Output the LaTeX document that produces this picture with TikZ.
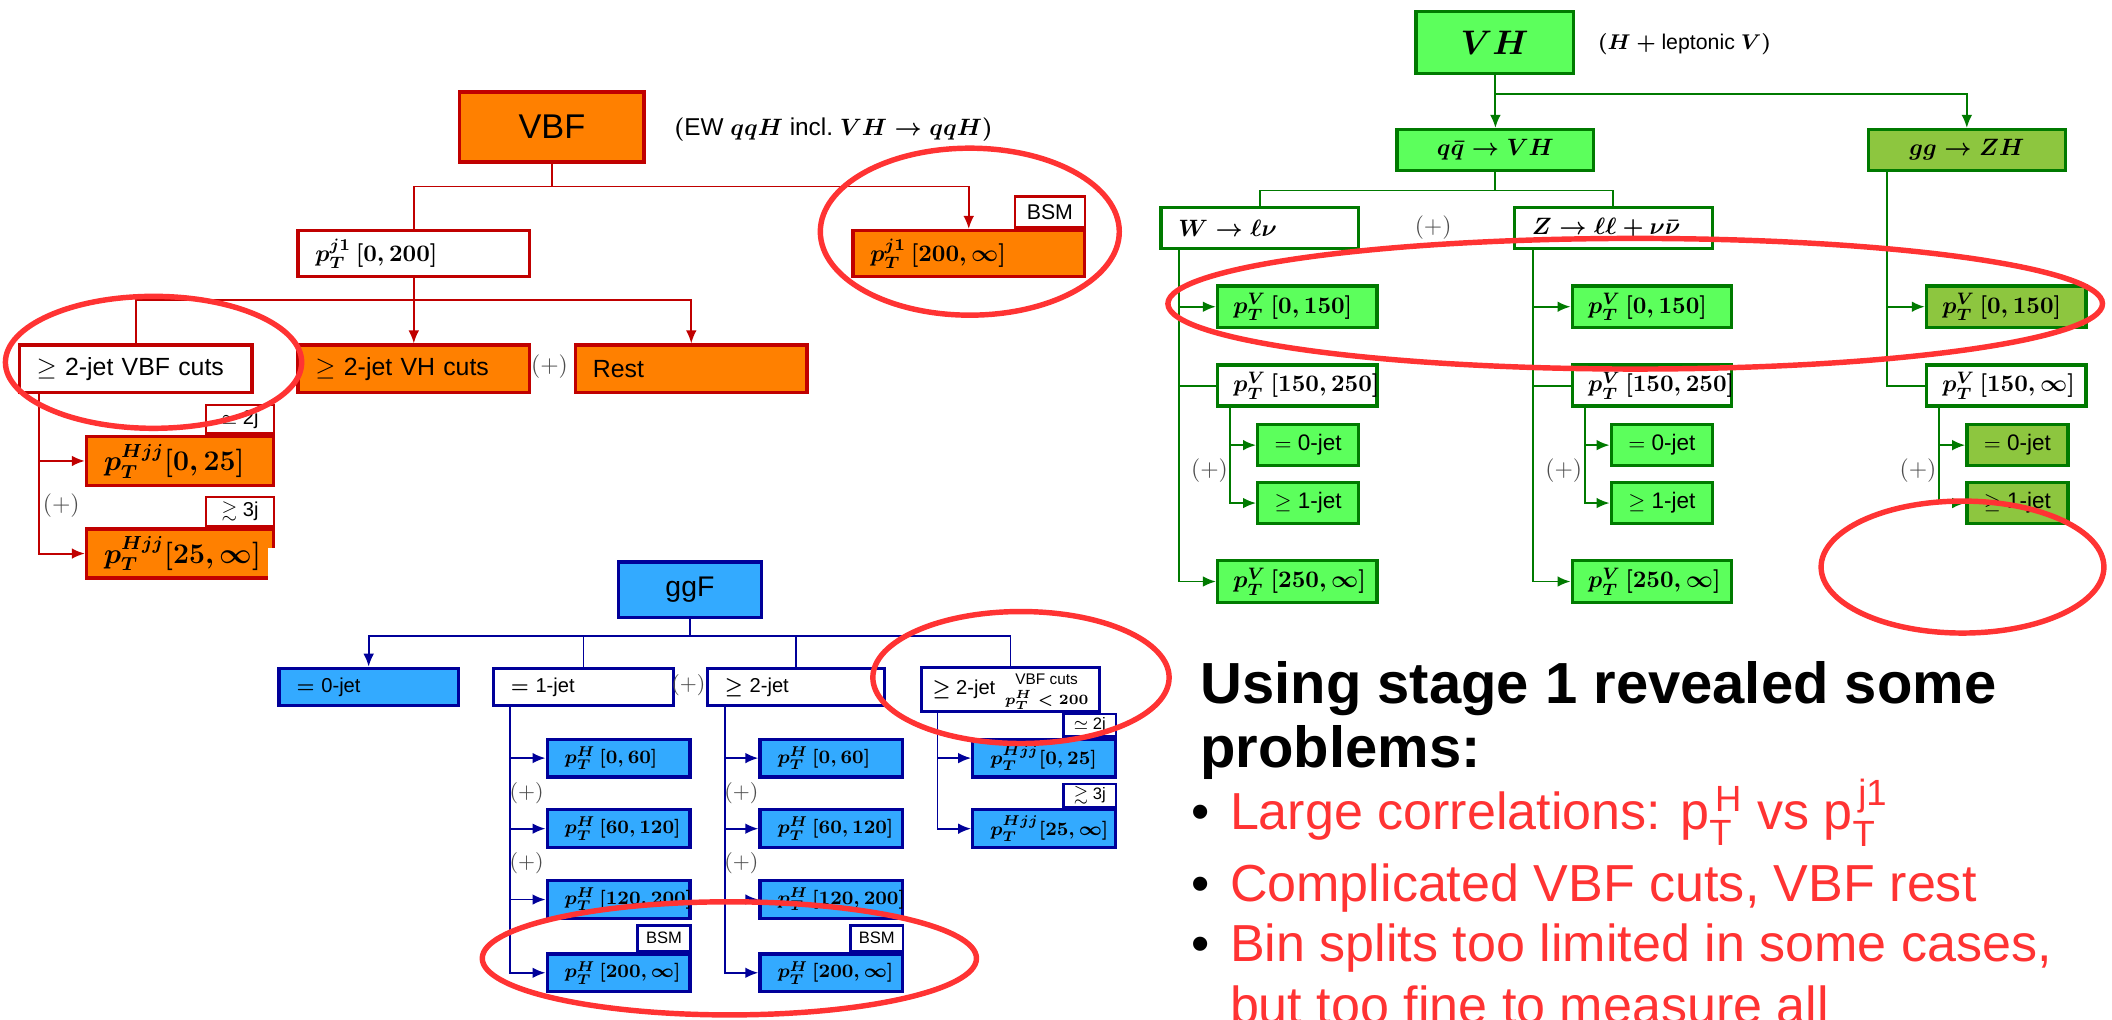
\documentclass[tikz,border=0pt]{standalone}
\usepackage{amsmath,amssymb}
\usepackage{fontspec}
\setsansfont{Liberation Sans}
\usetikzlibrary{arrows.meta}

\begin{document}
\begin{tikzpicture}[x = 0.02cm, y = -0.02cm, font = \sffamily,
  binbox/.style = {draw, line width = 1.4pt, anchor = north west, inner xsep = 0.26cm,
    inner ysep = 0pt, align = left, font = \sffamily\boldmath\fontsize{10}{12}\selectfont},
  vbfbox/.style = {binbox, draw = vbfRed, fill = vbfOrange},
  vbfwbox/.style = {binbox, draw = vbfRed, fill = white},
  vhbox/.style = {binbox, draw = vhDark, fill = vhGreen},
  vhwbox/.style = {binbox, draw = vhDark, fill = white},
  zhbox/.style = {binbox, draw = vhDark, fill = zhOlive},
  ggfbox/.style = {binbox, draw = ggfNavy, fill = ggfBlue, font = \sffamily\boldmath\fontsize{8.5}{10}\selectfont},
  ggfwbox/.style = {ggfbox, fill = white},
  tagbox/.style = {draw = #1, fill = white, line width = 1.1pt, anchor = south east,
    inner sep = 0pt, align = center},
  jetbox/.style = {minimum width = 1.5cm, minimum height = 0.61cm, align = center, inner xsep = 0pt,
    font = \sffamily\fontsize{9.5}{11}\selectfont},
  plus/.style = {text = black!70, font = \rmfamily\fontsize{10}{12}\selectfont},
  vbfline/.style = {draw = vbfRed, line width = 0.8pt},
  vhline/.style = {draw = vhDark, line width = 0.8pt},
  ggfline/.style = {draw = ggfNavy, line width = 0.8pt},
  headed/.style = {-{Latex[length = 5.5pt, width = 4.5pt]}},
  ring/.style = {draw = markRed, line width = 2.3pt}]

  \definecolor{vbfOrange}{HTML}{FF8000};
  \definecolor{vbfRed}{HTML}{C00000};
  \definecolor{vhGreen}{HTML}{5CFF5C};
  \definecolor{vhDark}{HTML}{007A00};
  \definecolor{zhOlive}{HTML}{8DC63F};
  \definecolor{ggfBlue}{HTML}{33AAFF};
  \definecolor{ggfNavy}{HTML}{000099};
  \definecolor{markRed}{HTML}{FF3333};

  \useasboundingbox (0,0) rectangle (1568,757);

  % VBF tree
  \node[vbfbox, minimum width = 2.74cm, minimum height = 1.04cm, align = center, inner xsep = 0pt,
    font = \sffamily\fontsize{14.5}{16}\selectfont] (vbf) at (340,67) {VBF};
  \node[anchor = west, font = \sffamily\boldmath\fontsize{10.3}{12}\selectfont] (vbfnote) at (494,96)
    {$($EW $qqH$ incl.\ $VH\rightarrow qqH)$};
  \node[vbfwbox, text width = 2.92cm, minimum height = 0.68cm] (pjlo) at (220,170) {$p_T^{j1}\,[0,200]$};
  \node[vbfbox, text width = 2.92cm, minimum height = 0.68cm] (pjhi) at (632,170) {$p_T^{j1}\,[200,\infty]$};
  \node[tagbox = vbfRed, minimum width = 1.04cm, minimum height = 0.46cm,
    font = \sffamily\fontsize{9}{10}\selectfont] (pjtag) at (pjhi.north east) {BSM};

  \node[vbfwbox, text width = 2.94cm, minimum height = 0.70cm,
    font = \sffamily\fontsize{10.5}{12}\selectfont] (vbfcut) at (13,255) {$\geq$ 2-jet VBF cuts};
  \node[vbfbox, text width = 2.92cm, minimum height = 0.70cm,
    font = \sffamily\fontsize{10.5}{12}\selectfont] (vhcut) at (220,255) {$\geq$ 2-jet VH cuts};
  \node[plus] (vbfplus) at (408,272) {$(+)$};
  \node[vbfbox, text width = 2.92cm, minimum height = 0.70cm,
    font = \sffamily\fontsize{10.5}{12}\selectfont] (rest) at (426,255) {Rest};

  \node[vbfbox, text width = 2.26cm, minimum height = 0.72cm,
    font = \boldmath\fontsize{11.5}{13}\selectfont] (hjjlo) at (63,323) {$p_T^{Hjj}[0,25]$};
  \node[tagbox = vbfRed, minimum width = 1.01cm, minimum height = 0.43cm,
    font = \sffamily\fontsize{8.5}{10}\selectfont] (hjjlotag) at (hjjlo.north east) {$\simeq$ 2j};
  \node[vbfbox, text width = 2.26cm, minimum height = 0.73cm,
    font = \boldmath\fontsize{11.5}{13}\selectfont] (hjjhi) at (63,391.5) {$p_T^{Hjj}[25,\infty]$};
  \node[tagbox = vbfRed, minimum width = 1.01cm, minimum height = 0.43cm,
    font = \sffamily\fontsize{8.5}{10}\selectfont] (hjjhitag) at (hjjhi.north east) {$\gtrsim$ 3j};
  \node[plus] (hjjplus) at (45.5,375) {$(+)$};
  \fill[white] (199,407) rectangle (216,434);

  \draw[vbfline] (vbf.south) -- ++(0,17) -| (pjlo.north);
  \draw[vbfline, headed] (vbf.south) -- ++(0,17) -| (pjhi.north);
  \draw[vbfline] (pjlo.south) -- ++(0,16) -| (vbfcut.north);
  \draw[vbfline, headed] (pjlo.south) -- (vhcut.north);
  \draw[vbfline, headed] (pjlo.south) -- ++(0,16) -| (rest.north);
  \draw[vbfline, headed] ([xshift = 0.32cm]vbfcut.south west) |- (hjjlo.west);
  \draw[vbfline, headed] ([xshift = 0.32cm]vbfcut.south west) |- (hjjhi.west);

  % VH tree
  \node[vhbox, minimum width = 2.34cm, minimum height = 0.92cm, align = center, inner xsep = 0pt,
    font = \boldmath\fontsize{14.5}{16}\selectfont] (vh) at (1050,7.4) {$VH$};
  \node[anchor = west, font = \sffamily\boldmath\fontsize{9}{10}\selectfont] (vhnote) at (1180,33)
    {$(H+{}$leptonic $V)$};
  \node[vhbox, minimum width = 2.92cm, minimum height = 0.61cm, align = center, inner xsep = 0pt] (qqvh)
    at (1036,95) {$q\bar{q}\rightarrow VH$};
  \node[zhbox, minimum width = 2.92cm, minimum height = 0.61cm, align = center, inner xsep = 0pt] (ggzh)
    at (1386,95) {$gg\rightarrow ZH$};
  \node[vhwbox, text width = 2.42cm, minimum height = 0.61cm] (wlv) at (860.6,153) {$W\rightarrow\ell\nu$};
  \node[plus] (vhplus) at (1064,169) {$(+)$};
  \node[vhwbox, text width = 2.42cm, minimum height = 0.61cm] (zll) at (1123,153) {$Z\rightarrow\ell\ell+\nu\bar{\nu}$};

  \node[vhbox, text width = 1.9cm, minimum height = 0.62cm, inner xsep = 0.235cm] (wlo) at (902.7,211) {$p_T^V\,[0,150]$};
  \node[vhwbox, text width = 1.9cm, minimum height = 0.61cm, inner xsep = 0.235cm] (wmid) at (902.7,269.8) {$p_T^V\,[150,250]$};
  \node[vhbox, jetbox] (wnull) at (932.5,314) {$=$ 0-jet};
  \node[plus] (wplus) at (898,349.4) {$(+)$};
  \node[vhbox, jetbox] (wone) at (932.5,357) {$\geq$ 1-jet};
  \node[vhbox, text width = 1.9cm, minimum height = 0.62cm, inner xsep = 0.235cm] (whi) at (902.7,415) {$p_T^V\,[250,\infty]$};

  \node[vhbox, text width = 1.9cm, minimum height = 0.62cm, inner xsep = 0.235cm] (zlo) at (1166,211) {$p_T^V\,[0,150]$};
  \node[vhwbox, text width = 1.9cm, minimum height = 0.61cm, inner xsep = 0.235cm] (zmid) at (1166,269.8) {$p_T^V\,[150,250]$};
  \node[vhbox, jetbox] (znull) at (1195,314) {$=$ 0-jet};
  \node[plus] (zplus) at (1161,349.4) {$(+)$};
  \node[vhbox, jetbox] (zone) at (1195,357) {$\geq$ 1-jet};
  \node[vhbox, text width = 1.9cm, minimum height = 0.62cm, inner xsep = 0.235cm] (zhi) at (1166,415) {$p_T^V\,[250,\infty]$};

  \node[zhbox, text width = 1.9cm, minimum height = 0.62cm, inner xsep = 0.235cm] (zhlo) at (1429,211) {$p_T^V\,[0,150]$};
  \node[vhwbox, text width = 1.9cm, minimum height = 0.61cm, inner xsep = 0.235cm] (zhmid) at (1429,269.8) {$p_T^V\,[150,\infty]$};
  \node[zhbox, jetbox] (zhnull) at (1459,314) {$=$ 0-jet};
  \node[plus] (zhplus) at (1424,349.4) {$(+)$};
  \node[zhbox, jetbox] (zhone) at (1459,357) {$\geq$ 1-jet};

  \draw[vhline, headed] (vh.south) -- ++(0,14) -| (qqvh.north);
  \draw[vhline, headed] (vh.south) -- ++(0,14) -| (ggzh.north);
  \draw[vhline] (qqvh.south) -- ++(0,13.5) -| (wlv.north);
  \draw[vhline] (qqvh.south) -- ++(0,13.5) -| (zll.north);

  \draw[vhline, headed] ([xshift = 0.29cm]wlv.south west) |- (wlo.west);
  \draw[vhline] ([xshift = 0.29cm]wlv.south west) |- (wmid.west);
  \draw[vhline, headed] ([xshift = 0.29cm]wlv.south west) |- (whi.west);
  \draw[vhline, headed] ([xshift = 0.21cm]wmid.south west) |- (wnull.west);
  \draw[vhline, headed] ([xshift = 0.21cm]wmid.south west) |- (wone.west);

  \draw[vhline, headed] ([xshift = 0.3cm]zll.south west) |- (zlo.west);
  \draw[vhline] ([xshift = 0.3cm]zll.south west) |- (zmid.west);
  \draw[vhline, headed] ([xshift = 0.3cm]zll.south west) |- (zhi.west);
  \draw[vhline, headed] ([xshift = 0.21cm]zmid.south west) |- (znull.west);
  \draw[vhline, headed] ([xshift = 0.21cm]zmid.south west) |- (zone.west);

  \draw[vhline, headed] ([xshift = 0.3cm]ggzh.south west) |- (zhlo.west);
  \draw[vhline] ([xshift = 0.3cm]ggzh.south west) |- (zhmid.west);
  \draw[vhline, headed] ([xshift = 0.21cm]zhmid.south west) |- (zhnull.west);
  \draw[vhline, headed] ([xshift = 0.21cm]zhmid.south west) |- (zhone.west);

  % ggF tree
  \node[ggfbox, minimum width = 2.12cm, minimum height = 0.82cm, align = center, inner xsep = 0pt,
    font = \sffamily\fontsize{12}{14}\selectfont] (ggf) at (458,416) {ggF};
  \node[ggfbox, text width = 2.14cm, minimum height = 0.55cm] (gnull) at (206,495) {$=$ 0-jet};
  \node[ggfwbox, text width = 2.16cm, minimum height = 0.55cm] (gone) at (365,495) {$=$ 1-jet};
  \node[plus, font = \rmfamily\fontsize{9}{11}\selectfont] (gplus) at (511,509) {$(+)$};
  \node[ggfwbox, text width = 2.11cm, minimum height = 0.55cm] (gtwo) at (524,495) {$\geq$ 2-jet};
  \node[ggfwbox, minimum width = 2.64cm, minimum height = 0.63cm, align = center, inner xsep = 0pt] (gvbf)
    at (683,494.5) {$\geq$ 2-jet\hspace{4pt}\begin{tabular}[c]{@{}c@{}}\fontsize{6.5}{7}\selectfont VBF cuts\\[-1.5pt]
     \fontsize{6.5}{7}\selectfont$p_T^H<200$\end{tabular}};

  \node[ggfbox, text width = 1.6cm, minimum height = 0.56cm] (onea) at (405,547.6) {$p_T^H\,[0,60]$};
  \node[plus, font = \rmfamily\fontsize{9}{11}\selectfont] (oneplusa) at (391,589) {$(+)$};
  \node[ggfbox, text width = 1.6cm, minimum height = 0.56cm] (oneb) at (405,600) {$p_T^H\,[60,120]$};
  \node[plus, font = \rmfamily\fontsize{9}{11}\selectfont] (oneplusb) at (391,641) {$(+)$};
  \node[ggfbox, text width = 1.6cm, minimum height = 0.56cm] (onec) at (405,652.6) {$p_T^H\,[120,200]$};
  \node[ggfbox, text width = 1.6cm, minimum height = 0.56cm] (oned) at (405,707) {$p_T^H\,[200,\infty]$};
  \node[tagbox = ggfNavy, minimum width = 0.78cm, minimum height = 0.38cm,
    font = \sffamily\fontsize{7}{8}\selectfont] (onetag) at (oned.north east) {BSM};

  \node[ggfbox, text width = 1.6cm, minimum height = 0.56cm] (twoa) at (563,547.6) {$p_T^H\,[0,60]$};
  \node[plus, font = \rmfamily\fontsize{9}{11}\selectfont] (twoplusa) at (550.5,589) {$(+)$};
  \node[ggfbox, text width = 1.6cm, minimum height = 0.56cm] (twob) at (563,600) {$p_T^H\,[60,120]$};
  \node[plus, font = \rmfamily\fontsize{9}{11}\selectfont] (twoplusb) at (550.5,641) {$(+)$};
  \node[ggfbox, text width = 1.6cm, minimum height = 0.56cm] (twoc) at (563,652.6) {$p_T^H\,[120,200]$};
  \node[ggfbox, text width = 1.6cm, minimum height = 0.56cm] (twod) at (563,707) {$p_T^H\,[200,\infty]$};
  \node[tagbox = ggfNavy, minimum width = 0.78cm, minimum height = 0.38cm,
    font = \sffamily\fontsize{7}{8}\selectfont] (twotag) at (twod.north east) {BSM};

  \node[ggfbox, text width = 1.6cm, minimum height = 0.56cm] (vbfa) at (721,547.6) {$p_T^{Hjj}[0,25]$};
  \node[tagbox = ggfNavy, minimum width = 0.78cm, minimum height = 0.33cm,
    font = \sffamily\fontsize{7}{8}\selectfont] (vbfatag) at (vbfa.north east) {$\simeq$ 2j};
  \node[ggfbox, text width = 1.6cm, minimum height = 0.56cm] (vbfb) at (721,600) {$p_T^{Hjj}[25,\infty]$};
  \node[tagbox = ggfNavy, minimum width = 0.78cm, minimum height = 0.34cm,
    font = \sffamily\fontsize{7}{8}\selectfont] (vbfbtag) at (vbfb.north east) {$\gtrsim$ 3j};

  \draw[ggfline, headed] (ggf.south) -- ++(0,12.5) -| (gnull.north);
  \draw[ggfline] (ggf.south) -- ++(0,12.5) -| (gone.north);
  \draw[ggfline] (ggf.south) -- ++(0,12.5) -| (gtwo.north);
  \draw[ggfline] (ggf.south) -- ++(0,12.5) -| (gvbf.north);
  \draw[ggfline, headed] ([xshift = 0.27cm]gone.south west) |- (onea.west);
  \draw[ggfline, headed] ([xshift = 0.27cm]gone.south west) |- (oneb.west);
  \draw[ggfline, headed] ([xshift = 0.27cm]gone.south west) |- (onec.west);
  \draw[ggfline, headed] ([xshift = 0.27cm]gone.south west) |- (oned.west);
  \draw[ggfline, headed] ([xshift = 0.28cm]gtwo.south west) |- (twoa.west);
  \draw[ggfline, headed] ([xshift = 0.28cm]gtwo.south west) |- (twob.west);
  \draw[ggfline, headed] ([xshift = 0.28cm]gtwo.south west) |- (twoc.west);
  \draw[ggfline, headed] ([xshift = 0.28cm]gtwo.south west) |- (twod.west);
  \draw[ggfline, headed] ([xshift = 0.26cm]gvbf.south west) |- (vbfa.west);
  \draw[ggfline, headed] ([xshift = 0.26cm]gvbf.south west) |- (vbfb.west);

  % slide text
  \node[anchor = base west, font = \sffamily\bfseries\fontsize{24.5}{28}\selectfont] (headA) at (885,522)
    {Using stage 1 revealed some};
  \node[anchor = base west, font = \sffamily\bfseries\fontsize{24.5}{28}\selectfont] (headB) at (885,570)
    {problems:};
  \node[anchor = base, font = \sffamily\fontsize{22}{24}\selectfont] (dotA) at (891,616) {\textbullet};
  \node[anchor = base west, text = markRed, font = \sffamily\fontsize{22}{26}\selectfont] (itemA) at (907,616)
    {Large correlations: p$_{\text{T}}^{\,\text{H}}$ vs p$_{\text{T}}^{\,\text{j1}}$};
  \node[anchor = base, font = \sffamily\fontsize{22}{24}\selectfont] (dotB) at (891,669) {\textbullet};
  \node[anchor = base west, text = markRed, font = \sffamily\fontsize{22}{26}\selectfont] (itemB) at (907,669)
    {Complicated VBF cuts, VBF rest};
  \node[anchor = base, font = \sffamily\fontsize{22}{24}\selectfont] (dotC) at (891,714) {\textbullet};
  \node[anchor = base west, text = markRed, font = \sffamily\fontsize{22}{26}\selectfont] (itemC) at (907,714)
    {Bin splits too limited in some cases,};
  \node[anchor = base west, text = markRed, font = \sffamily\fontsize{22}{26}\selectfont] (itemD) at (907,760)
    {but too fine to measure all};

  % red marks
  \draw[ring] (720,172) ellipse [x radius = 2.22cm, y radius = 1.24cm];
  \draw[ring] (114,269) ellipse [x radius = 2.2cm, y radius = 0.98cm];
  \draw[ring] (1214,225.5) ellipse [x radius = 6.94cm, y radius = 0.97cm];
  \draw[ring] (1457,421) ellipse [x radius = 2.1cm, y radius = 0.98cm];
  \draw[ring] (758,503) ellipse [x radius = 2.2cm, y radius = 0.98cm];
  \draw[ring] (541.5,711.5) ellipse [x radius = 3.67cm, y radius = 0.84cm];
\end{tikzpicture}
\end{document}
